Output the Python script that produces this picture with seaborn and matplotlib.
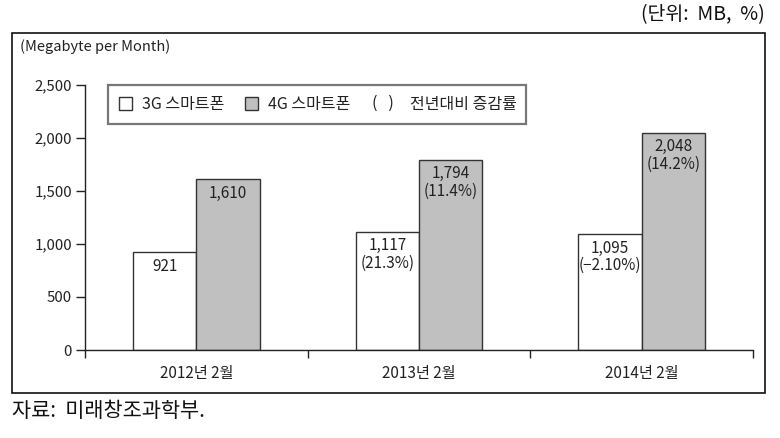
import matplotlib
matplotlib.use("Agg")
import matplotlib.pyplot as plt
import matplotlib.patches as mpatches
from matplotlib.legend_handler import HandlerBase
from matplotlib.text import Text
import seaborn as sns
import pandas as pd

categories = ["2012년 2월", "2013년 2월", "2014년 2월"]
series_names = ["3G 스마트폰", "4G 스마트폰"]
values_3g = [921, 1117, 1095]
values_4g = [1610, 1794, 2048]
labels_3g = ["921", "1,117\n(21.3%)", "1,095\n(−2.10%)"]
labels_4g = ["1,610", "1,794\n(11.4%)", "2,048\n(14.2%)"]
yticks = [0, 500, 1000, 1500, 2000, 2500]
ytick_labels = ["0", "500", "1,000", "1,500", "2,000", "2,500"]
change_label = "전년대비 증감률"

sns.set_theme(style="white")
plt.rcParams["font.family"] = ["Noto Sans CJK KR", "DejaVu Sans"]
plt.rcParams["axes.unicode_minus"] = False

df = pd.DataFrame({
    "cat": categories * 2,
    "series": [series_names[0]] * 3 + [series_names[1]] * 3,
    "value": values_3g + values_4g,
})

fig = plt.figure(figsize=(7.8, 4.38), dpi=100)
ax = fig.add_axes([85 / 780, 1 - 350 / 438, (753 - 85) / 780, (350 - 85) / 438])

sns.barplot(data=df, x="cat", y="value", hue="series", order=categories,
            hue_order=series_names, palette=["#ffffff", "#c0c0c0"],
            width=0.57, edgecolor="#333333", linewidth=1.0, ax=ax,
            legend=False, saturation=1)

# bar labels
for container, labs in zip(ax.containers, [labels_3g, labels_4g]):
    for bar, lab in zip(container, labs):
        ax.annotate(lab, (bar.get_x() + bar.get_width() / 2, bar.get_height()),
                    xytext=(0, -4), textcoords="offset points",
                    ha="center", va="top", fontsize=11, color="#222222",
                    linespacing=1.05)

ax.set_xlim(-0.5, 2.5)
ax.set_ylim(0, 2500)
ax.set_yticks(yticks)
ax.set_yticklabels(ytick_labels, fontsize=10.8, color="#222222")
ax.set_xticks(range(len(categories)))
ax.set_xticklabels(categories, fontsize=11, color="#222222")
ax.set_xticks([-0.5, 0.5, 1.5, 2.5], minor=True)
ax.tick_params(axis="x", which="major", length=0, pad=11)
ax.tick_params(axis="x", which="minor", length=6, width=1, color="#222222", direction="out", bottom=True)
ax.tick_params(axis="y", length=6.5, width=1, color="#222222", direction="out", left=True, pad=3)
ax.set_xlabel("")
ax.set_ylabel("")
for s in ["top", "right"]:
    ax.spines[s].set_visible(False)
for s in ["left", "bottom"]:
    ax.spines[s].set_color("#222222")
    ax.spines[s].set_linewidth(1.0)


class ParenHandler(HandlerBase):
    def create_artists(self, legend, orig_handle, xdescent, ydescent, width, height, fontsize, trans):
        t = Text(x=width / 2 - xdescent + 4, y=height / 2 - ydescent, text="(   )",
                 ha="center", va="center", fontsize=fontsize, color="#222222",
                 transform=trans)
        return [t]


class ParenKey:
    pass


paren_key = ParenKey()
handles = [
    mpatches.Patch(facecolor="#ffffff", edgecolor="#333333", linewidth=1.0),
    mpatches.Patch(facecolor="#c0c0c0", edgecolor="#333333", linewidth=1.0),
    paren_key,
]
leg_labels = [series_names[0], series_names[1], change_label + "    "]
leg = ax.legend(handles, leg_labels, loc="upper left", bbox_to_anchor=(0.034, 1.0),
                ncol=3, frameon=True, fancybox=False, fontsize=11.5,
                handlelength=0.81, handleheight=0.81, handletextpad=0.62,
                columnspacing=1.3, borderaxespad=0, borderpad=0.7,
                handler_map={ParenKey: ParenHandler()})
leg.get_frame().set_edgecolor("#555555")
leg.get_frame().set_linewidth(1.6)
for t in leg.get_texts():
    t.set_color("#222222")
# push the last label to the right of the "( )" key
leg.get_texts()[2].set_x(16)

# outer box
fig.patches.append(mpatches.Rectangle((12 / 780, 1 - 393 / 438), (765 - 12) / 780, 360 / 438,
                                      transform=fig.transFigure, fill=False,
                                      edgecolor="#111111", linewidth=1.2))

fig.text(20 / 780, 1 - 47 / 438, "(Megabyte per Month)", fontsize=10.5, va="center", ha="left", color="#222222")
fig.text(765 / 780, 1 - 15 / 438, "(단위:  MB,  %)", fontsize=14, va="center", ha="right", color="#111111")
fig.text(12 / 780, 1 - 411 / 438, "자료:  미래창조과학부.", fontsize=15, va="center", ha="left", color="#111111")

fig.savefig("out.png", dpi=100)
